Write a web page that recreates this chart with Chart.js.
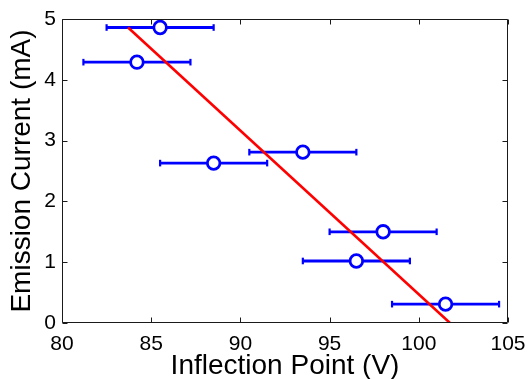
<!DOCTYPE html>
<html><head><meta charset="utf-8">
<script src="https://cdn.jsdelivr.net/npm/chart.js@4"></script>
<style>html,body{margin:0;padding:0;background:#fff}#wrap{width:529px;height:379px}</style>
</head><body><div id="wrap"><canvas id="c" width="529" height="379"></canvas></div>
<script>
const inflectionV = [85.5, 84.2, 88.5, 93.5, 98.0, 96.5, 101.5];
const emissionMA = [4.86, 4.29, 2.63, 2.81, 1.50, 1.02, 0.31];
const inflectionErrV = [3, 3, 3, 3, 3, 3, 3];
const fitX = [83.7, 101.75];
const fitY = [4.86, 0];
const xTicks = [80, 85, 90, 95, 100, 105];
const yTicks = [0, 1, 2, 3, 4, 5];
const xTitle = 'Inflection Point (V)';
const yTitle = 'Emission Current (mA)';

const FONT = '"Liberation Sans", Arial, sans-serif';
const BLUE = '#0000ff';
const RED = '#ff0000';

const points = inflectionV.map((x, i) => ({x: x, y: emissionMA[i]}));
const errData = [];
inflectionV.forEach((x, i) => {
  errData.push({x: x - inflectionErrV[i], y: emissionMA[i]});
  errData.push({x: x + inflectionErrV[i], y: emissionMA[i]});
  errData.push({x: x, y: null});
});
const fitData = fitX.map((x, i) => ({x: x, y: fitY[i]}));

const frame = {
  id: 'frame',
  afterDatasetsDraw(chart) {
    const {ctx, chartArea: a, scales: {x, y}} = chart;
    ctx.save();
    ctx.strokeStyle = '#1a1a1a';
    ctx.lineWidth = 1;
    ctx.beginPath();
    const L = Math.round(a.left) + 0.5, R = Math.round(a.right) - 0.5;
    const T = Math.round(a.top) + 0.5, B = Math.round(a.bottom) - 0.5;
    ctx.rect(L, T, R - L, B - T);
    const tl = 5;
    xTicks.forEach(v => {
      const px = Math.round(x.getPixelForValue(v)) + 0.5;
      ctx.moveTo(px, B); ctx.lineTo(px, B - tl);
      ctx.moveTo(px, T); ctx.lineTo(px, T + tl);
    });
    yTicks.forEach(v => {
      const py = Math.round(y.getPixelForValue(v)) + 0.5;
      ctx.moveTo(L, py); ctx.lineTo(L + tl, py);
      ctx.moveTo(R, py); ctx.lineTo(R - tl, py);
    });
    ctx.stroke();
    ctx.restore();
  }
};

new Chart(document.getElementById('c'), {
  type: 'scatter',
  data: {
    datasets: [
      {
        type: 'line', data: fitData, borderColor: RED, borderWidth: 2.6,
        pointRadius: 0, fill: false, order: 0
      },
      {
        type: 'scatter', data: points, borderColor: BLUE, backgroundColor: '#ffffff',
        borderWidth: 2.8, pointRadius: 6.3, pointStyle: 'circle', order: 1
      },
      {
        type: 'line', data: errData, borderColor: BLUE, backgroundColor: BLUE, borderWidth: 2.8,
        spanGaps: false, pointStyle: 'line', pointRotation: 90, pointRadius: 3.3,
        pointBorderWidth: 2.2, pointBorderColor: BLUE, order: 2
      }
    ]
  },
  options: {
    responsive: false,
    devicePixelRatio: 1,
    animation: false,
    events: [],
    layout: {padding: {top: 19, right: 21, left: 0, bottom: 0}},
    plugins: {legend: {display: false}, tooltip: {enabled: false}},
    scales: {
      x: {
        type: 'linear', min: 80, max: 105,
        afterBuildTicks(s) { s.ticks = xTicks.map(v => ({value: v})); },
        afterFit(s) { s.height = 56; s.paddingLeft = 0; s.paddingRight = 0; },
        grid: {display: false, drawTicks: false}, border: {display: false},
        ticks: {color: '#000', padding: 9, maxRotation: 0, font: {family: FONT, size: 21}},
        title: {display: true, text: xTitle, color: '#000', padding: {top: 0, bottom: -4},
          font: {family: FONT, size: 28, lineHeight: 1.2}}
      },
      y: {
        type: 'linear', min: 0, max: 5,
        afterBuildTicks(s) { s.ticks = yTicks.map(v => ({value: v})); },
        afterFit(s) { s.width = 62; s.paddingTop = 0; s.paddingBottom = 0; },
        grid: {display: false, drawTicks: false}, border: {display: false},
        ticks: {color: '#000', padding: 6, font: {family: FONT, size: 21}},
        title: {display: true, text: yTitle, color: '#000', padding: {top: 5, bottom: 0},
          font: {family: FONT, size: 28, lineHeight: 1.2}}
      }
    }
  },
  plugins: [frame]
});
</script>
</body></html>
